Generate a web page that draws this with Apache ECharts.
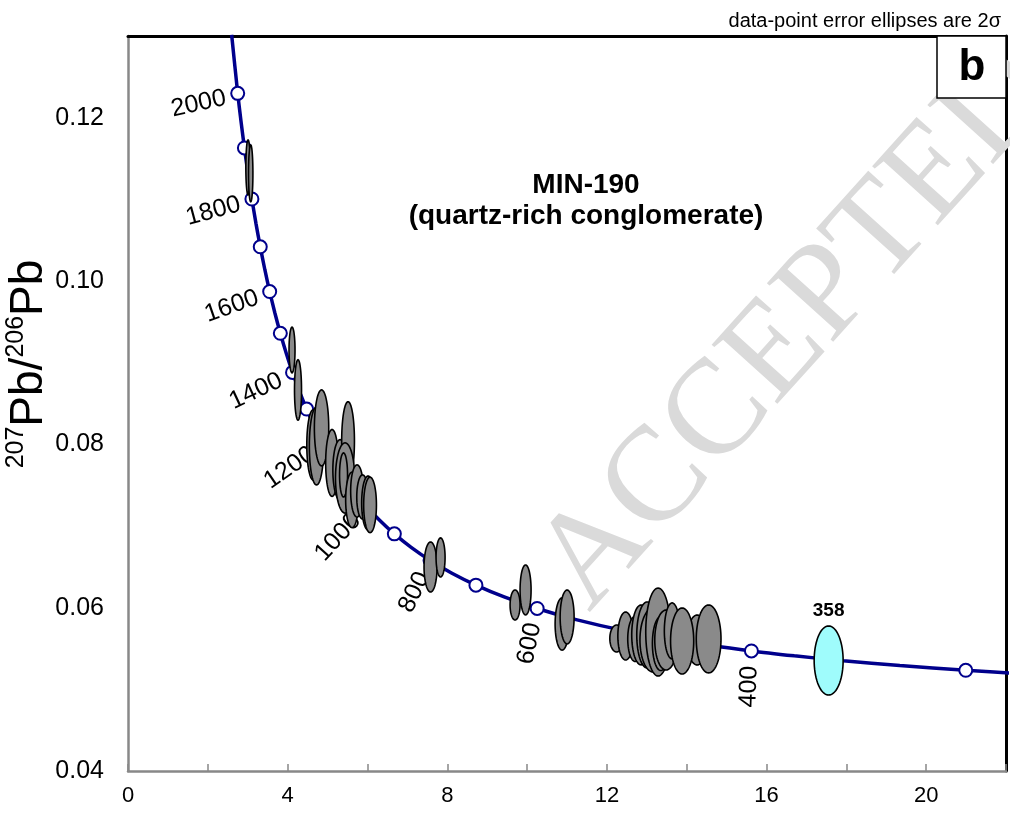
<!DOCTYPE html>
<html><head><meta charset="utf-8">
<script src="https://cdn.jsdelivr.net/npm/echarts@6/dist/echarts.min.js"></script>
<style>html,body{margin:0;padding:0;background:#fff}#c{width:1010px;height:817px}</style>
</head><body><div id="c"></div>
<script>
// Concordia curve points: age (Ma), 238U/206Pb, 207Pb/206Pb
const curveAge = [2100,2000,1950,1900,1850,1800,1750,1700,1650,1600,1550,1500,1450,1400,1350,1300,1250,1200,1150,1100,1050,1000,950,900,850,800,750,700,650,600,550,500,450,400,375,350,325,300,280];
const curveX = [2.597,2.749,2.831,2.917,3.008,3.105,3.206,3.314,3.428,3.550,3.679,3.817,3.965,4.123,4.293,4.476,4.673,4.888,5.120,5.375,5.653,5.959,6.298,6.674,7.095,7.568,8.105,8.718,9.426,10.252,11.228,12.399,13.831,15.621,16.695,17.922,19.339,20.992,22.526];
const curveY = [0.13015,0.12298,0.11958,0.11629,0.11311,0.11004,0.10706,0.10419,0.10141,0.09871,0.09611,0.09360,0.09116,0.08881,0.08653,0.08432,0.08219,0.08012,0.07812,0.07619,0.07431,0.07250,0.07074,0.06904,0.06739,0.06580,0.06425,0.06276,0.06131,0.05990,0.05854,0.05722,0.05594,0.05470,0.05410,0.05350,0.05291,0.05233,0.05188];
// Age markers (open circles) and labelled ages
const markerAge = [2000,1900,1800,1700,1600,1500,1400,1300,1200,1100,1000,900,800,700,600,500,400,300];
const labelAge = [2000,1800,1600,1400,1200,1000,800,600,400];
// Detrital zircon error ellipses (grey): centre x, centre y, half-width x, half-height y
const ellCX = [3.008,3.075,4.110,4.260,4.640,4.724,4.850,5.113,5.313,5.514,5.439,5.401,5.614,5.739,5.877,6.015,6.065,
               7.581,7.832,9.699,9.962,10.877,11.003,
               12.243,12.469,12.707,12.857,13.008,13.158,13.283,13.350,13.484,13.634,14.261,13.885,14.549];
const ellCY = [0.11391,0.11318,0.09156,0.08666,0.07993,0.07980,0.08201,0.07772,0.07687,0.08042,0.07588,0.07625,0.07319,0.07429,0.07356,0.07282,0.07258,
               0.06498,0.06615,0.06033,0.06217,0.05800,0.05886,
               0.05623,0.05653,0.05617,0.05666,0.05666,0.05604,0.05702,0.05560,0.05604,0.05715,0.05604,0.05592,0.05617];
const ellRX = [0.055,0.055,0.075,0.088,0.160,0.180,0.180,0.160,0.180,0.160,0.240,0.100,0.160,0.160,0.145,0.160,0.160,
               0.163,0.113,0.125,0.138,0.175,0.175,
               0.170,0.195,0.185,0.235,0.260,0.330,0.310,0.210,0.285,0.195,0.250,0.290,0.310];
const ellRY = [0.00337,0.00349,0.00280,0.00370,0.00430,0.00478,0.00465,0.00410,0.00370,0.00480,0.00430,0.00270,0.00340,0.00320,0.00270,0.00330,0.00340,
               0.00306,0.00239,0.00184,0.00306,0.00320,0.00330,
               0.00165,0.00294,0.00276,0.00367,0.00404,0.00392,0.00539,0.00330,0.00367,0.00343,0.00306,0.00404,0.00416];
// Youngest grain (cyan)
const youngCX = [17.556], youngCY = [0.05353], youngRX = [0.363], youngRY = [0.00423], youngLabel = ['358'];

const FONT = '"Liberation Sans", Arial, sans-serif';
const chart = echarts.init(document.getElementById('c'), null, {renderer: 'canvas'});

function ellipseRender(fill) {
  return function (params, api) {
    const cx = api.value(0), cy = api.value(1), rx = api.value(2), ry = api.value(3);
    const pts = [];
    for (let k = 0; k < 72; k++) {
      const t = k / 72 * 2 * Math.PI;
      pts.push(api.coord([cx + rx * Math.cos(t), cy + ry * Math.sin(t)]));
    }
    const children = [{type: 'polygon', shape: {points: pts}, style: {fill: fill, stroke: '#000', lineWidth: 1.6}}];
    const lab = params.seriesName === 'young' ? youngLabel[params.dataIndex] : null;
    if (lab) {
      const top = api.coord([cx, cy + ry]);
      children.push({type: 'text', x: top[0], y: top[1] - 6,
        style: {text: lab, font: 'bold 19px ' + FONT, fill: '#000', textAlign: 'center', textVerticalAlign: 'bottom'}});
    }
    return {type: 'group', children: children};
  };
}

const option = {
  animation: false,
  backgroundColor: '#fff',
  grid: {left: 128, top: 36, right: 4, bottom: 46, containLabel: false, outerBoundsMode: 'none'},
  xAxis: [{
    type: 'value', min: 0, max: 22, interval: 2,
    axisLine: {onZero: false, lineStyle: {color: '#888', width: 2.5}},
    axisTick: {inside: true, length: 7, lineStyle: {color: '#888', width: 1.5}},
    splitLine: {show: false},
    axisLabel: {color: '#000', fontSize: 22, fontFamily: FONT, margin: 14,
      formatter: v => (Math.round(v) % 4 === 0 ? String(Math.round(v)) : '')}
  }, {
    type: 'value', position: 'top', min: 0, max: 22,
    axisLine: {onZero: false, lineStyle: {color: '#000', width: 3}},
    axisTick: {show: false}, axisLabel: {show: false}, splitLine: {show: false}
  }],
  yAxis: [{
    type: 'value', min: 0.04, max: 0.13, interval: 0.02,
    axisLine: {onZero: false, lineStyle: {color: '#888', width: 2.5}},
    axisTick: {show: false},
    splitLine: {show: false},
    axisLabel: {color: '#000', fontSize: 25, fontFamily: FONT, margin: 24,
      formatter: v => (Math.abs(v * 50 - Math.round(v * 50)) < 1e-6 ? v.toFixed(2) : '')}
  }, {
    type: 'value', position: 'right', min: 0.04, max: 0.13,
    axisLine: {onZero: false, lineStyle: {color: '#000', width: 3}},
    axisTick: {show: false}, axisLabel: {show: false}, splitLine: {show: false}
  }],
  graphic: [
    {type: 'text', x: 796, y: 330, rotation: 48 * Math.PI / 180, z: 1, silent: true,
      style: {text: 'ACCEPTED', font: '135px "Liberation Serif", "DejaVu Serif", serif', fill: '#dadada',
        textAlign: 'center', textVerticalAlign: 'middle'}},
    {type: 'text', x: 29, y: 364, rotation: Math.PI / 2, z: 10,
      style: {text: '{s|207}{b|Pb/}{s|206}{b|Pb}', fill: '#000', textAlign: 'center', textVerticalAlign: 'middle',
        rich: {s: {fontSize: 25, fontFamily: FONT, fill: '#000', verticalAlign: 'top', lineHeight: 18},
               b: {fontSize: 46, fontFamily: FONT, fill: '#000', lineHeight: 50}}}},
    {type: 'text', x: 1001, y: 21, z: 10,
      style: {text: 'data-point error ellipses are 2σ', font: '20px ' + FONT, fill: '#000', textAlign: 'right', textVerticalAlign: 'middle'}},
    {type: 'rect', z: 10, shape: {x: 937, y: 36, width: 69, height: 62}, style: {fill: '#fff', stroke: '#000', lineWidth: 1.5}},
    {type: 'text', x: 972, y: 68, z: 11,
      style: {text: 'b', font: 'bold 44px ' + FONT, fill: '#000', textAlign: 'center', textVerticalAlign: 'middle'}},
    {type: 'text', x: 586, y: 185, z: 10,
      style: {text: 'MIN-190', font: 'bold 28px ' + FONT, fill: '#000', textAlign: 'center', textVerticalAlign: 'middle'}},
    {type: 'text', x: 586, y: 216, z: 10,
      style: {text: '(quartz-rich conglomerate)', font: 'bold 28px ' + FONT, fill: '#000', textAlign: 'center', textVerticalAlign: 'middle'}}
  ],
  series: [
    {
      name: 'concordia', type: 'line', smooth: 0.25, symbol: 'none', z: 2, silent: true,
      data: curveX.map((x, i) => [x, curveY[i]]),
      lineStyle: {color: '#00008c', width: 3.5}
    },
    {
      name: 'markers', type: 'scatter', z: 3, silent: true, symbol: 'circle', symbolSize: 13,
      data: markerAge.map(a => { const i = curveAge.indexOf(a); return [curveX[i], curveY[i]]; }),
      itemStyle: {color: '#fff', borderColor: '#00008c', borderWidth: 2, opacity: 1}
    },
    {
      name: 'ageLabels', type: 'custom', z: 3, silent: true,
      data: labelAge.map(a => { const i = curveAge.indexOf(a); return [curveX[i], curveY[i], i]; }),
      encode: {x: 0, y: 1},
      renderItem: function (params, api) {
        const i = api.value(2);
        const i0 = Math.max(0, i - 2), i1 = Math.min(curveX.length - 1, i + 2);
        const p = api.coord([curveX[i], curveY[i]]);
        const a = api.coord([curveX[i0], curveY[i0]]);
        const b = api.coord([curveX[i1], curveY[i1]]);
        let dx = b[0] - a[0], dy = b[1] - a[1];
        const L = Math.hypot(dx, dy); dx /= L; dy /= L;
        const nx = -dy, ny = dx;
        const gap = 12;
        const rot = Math.atan2(dx, dy) + 6 * Math.PI / 180;
        return {type: 'text', x: p[0] + nx * gap, y: p[1] + ny * gap + 3, rotation: rot,
          style: {text: String(curveAge[i]), font: '25px ' + FONT, fill: '#000', textAlign: 'right', textVerticalAlign: 'middle'}};
      }
    },
    {
      name: 'grains', type: 'custom', z: 4, silent: true,
      data: ellCX.map((x, i) => [x, ellCY[i], ellRX[i], ellRY[i]]),
      encode: {x: 0, y: 1},
      renderItem: ellipseRender('#8a8a8a')
    },
    {
      name: 'young', type: 'custom', z: 5, silent: true,
      data: youngCX.map((x, i) => [x, youngCY[i], youngRX[i], youngRY[i]]),
      encode: {x: 0, y: 1},
      renderItem: ellipseRender('#9ffcfc')
    }
  ]
};
chart.setOption(option);
</script>
</body></html>
